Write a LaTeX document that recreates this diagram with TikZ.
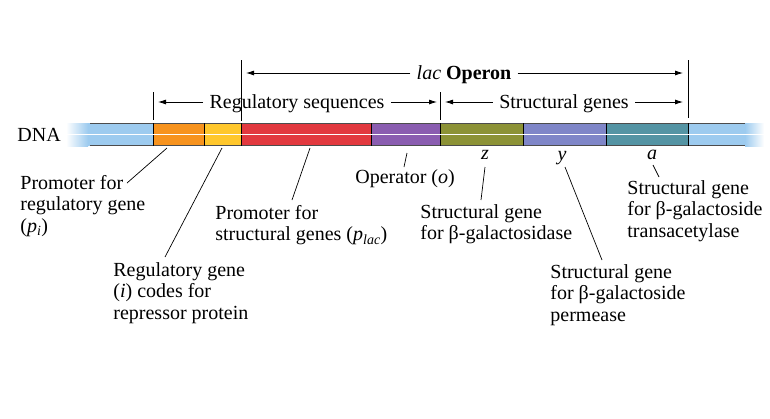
\documentclass[tikz,border=0pt]{standalone}
\usepackage{fontspec}
\setmainfont{Liberation Serif}
\usetikzlibrary{arrows.meta}

\definecolor{dnablue}{HTML}{9DCBEF}
\definecolor{pioran}{HTML}{F7931E}
\definecolor{igelb}{HTML}{FFC72C}
\definecolor{placred}{HTML}{E2393F}
\definecolor{oppurp}{HTML}{8A5DB0}
\definecolor{zolive}{HTML}{8C9236}
\definecolor{yperi}{HTML}{7F86C8}
\definecolor{ateal}{HTML}{5494A4}

\begin{document}
\begin{tikzpicture}[x=1pt,y=-1pt,>={Latex[length=8pt,width=5pt]},line width=0.8pt,
    hdr/.style={inner sep=6pt,text height=13.5pt,text depth=0pt,font=\fontsize{20}{21.5}\selectfont},
    lbl/.style={anchor=north west,align=left,inner sep=0pt,font=\fontsize{20}{21.5}\selectfont},
    gene/.style={inner sep=1pt,text height=9pt,text depth=0pt,font=\fontsize{20}{21.5}\selectfont\itshape}]

        \useasboundingbox (0,0) rectangle (770,418);

        % the DNA strand, faded at both ends
        \fill[dnablue] (88,123) rectangle (153,146);
        \shade[left color=white,right color=dnablue] (66,123) rectangle (88,146);
        \fill[dnablue] (688,123) rectangle (745,146);
        \shade[left color=dnablue,right color=white] (745,123) rectangle (764,146);
        \foreach \xa/\xb/\col in {153/204/pioran,204/241/igelb,241/371/placred,
                371/440/oppurp,440/523/zolive,523/606/yperi,606/688/ateal}
            \fill[\col] (\xa,123) rectangle (\xb,146);
        \draw[black!70] (90,123.4) -- (745,123.4)
                        (90,145.6) -- (745,145.6);
        \foreach \x in {153,204,241,371,440,523,606,688}
            \draw[black] (\x,123) -- (\x,146);
        \draw[white,line width=1.2pt] (66,134.5) -- (764,134.5);

        \node[lbl,anchor=west] (dna) at (17,135) {DNA};

        % ticks above the strand
        \coordinate (tk1) at (153,92);
        \coordinate (tk2) at (241,60);
        \coordinate (tk3) at (440,92);
        \coordinate (tk4) at (688,60);
        \draw (tk1) -- ++(0,28);
        \draw (tk2) -- ++(0,61);
        \draw (tk3) -- ++(0,28);
        \draw (tk4) -- ++(0,58);

        % spans with arrows
        \node[hdr] (lac) at (464,73) {\textit{lac} \textbf{Operon}};
        \node[hdr] (regseq) at (297,102) {Regulatory sequences};
        \node[hdr] (strgen) at (564,102) {Structural genes};
        \draw[->,shorten >=5pt] (lac.west) -- (lac.west -| tk2);
        \draw[->,shorten >=5pt] (lac.east) -- (lac.east -| tk4);
        \draw[->,shorten >=5pt] (regseq.west) -- (regseq.west -| tk1);
        \draw[->,shorten >=3pt] (regseq.east) -- (regseq.east -| tk3);
        \draw[->,shorten >=5pt] (strgen.west) -- (strgen.west -| tk3);
        \draw[->,shorten >=5pt] (strgen.east) -- (strgen.east -| tk4);

        % gene letters
        \node[gene] (zz) at (485,155) {z};
        \node[gene] (yy) at (562,156) {y};
        \node[gene] (aa) at (652,155) {a};

        % labels below the strand
        \node[lbl] (pi) at (20,175) {Promoter for\\regulatory gene\\(\textit{p}\textsubscript{\textit{i}})};
        \node[lbl] (ig) at (113,262) {Regulatory gene\\(\textit{i}) codes for\\repressor protein};
        \node[lbl] (plac) at (215,205) {Promoter for\\structural genes (\textit{p}\textsubscript{\textit{lac}})};
        \node[lbl] (op) at (355,169) {Operator (\textit{o})};
        \node[lbl] (zlbl) at (420,204) {Structural gene\\for β-galactosidase};
        \node[lbl] (ylbl) at (550,264) {Structural gene\\for β-galactoside\\permease};
        \node[lbl] (albl) at (627,180) {Structural gene\\for β-galactoside\\transacetylase};

        % leader lines
        \coordinate (pi0) at (167,148);  \coordinate (pi1) at (127,183);
        \coordinate (ig0) at (222,148);  \coordinate (ig1) at (165,257);
        \coordinate (pl0) at (310,148);  \coordinate (pl1) at (292,200);
        \coordinate (op0) at (407,153);  \coordinate (op1) at (404,167);
        \coordinate (z0) at (485,167);   \coordinate (z1) at (481,200);
        \coordinate (y0) at (565,167);   \coordinate (y1) at (602,260);
        \coordinate (a0) at (653,165);   \coordinate (a1) at (659,177);
        \foreach \p in {pi,ig,pl,op,z,y,a}
            \draw[line width=0.7pt] (\p0) -- (\p1);

\end{tikzpicture}
\end{document}
